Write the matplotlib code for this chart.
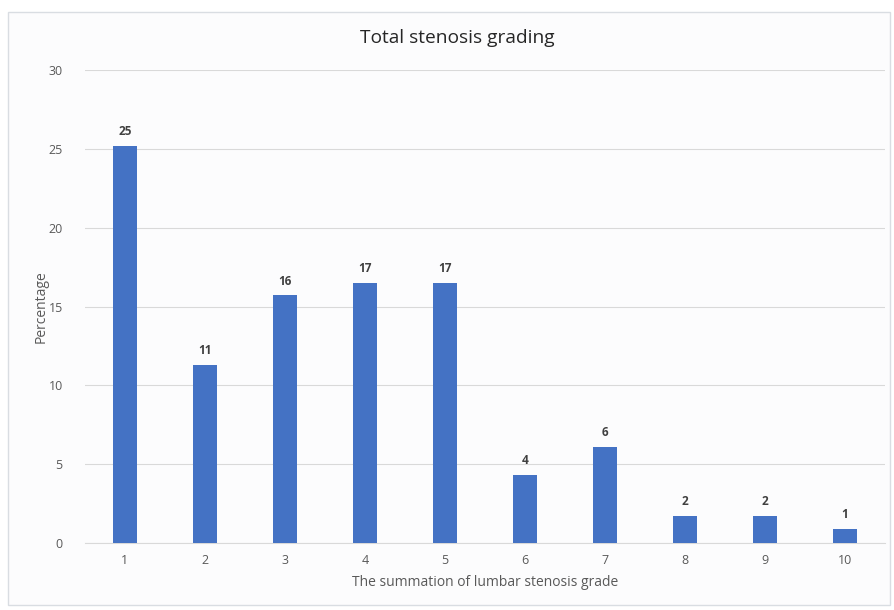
import matplotlib
matplotlib.use("Agg")
import matplotlib.pyplot as plt
from matplotlib.patches import Rectangle

grades = ["1", "2", "3", "4", "5", "6", "7", "8", "9", "10"]
percentages = [25.2, 11.3, 15.7, 16.5, 16.5, 4.3, 6.1, 1.7, 1.7, 0.9]
bar_labels = ["25", "11", "16", "17", "17", "4", "6", "2", "2", "1"]

plt.rcParams['font.family'] = ['Open Sans', 'DejaVu Sans']
text_col = "#595959"
bar_col = "#4472C4"

fig = plt.figure(figsize=(8.94, 6.10), dpi=100)
fig.patch.set_facecolor("white")
# light frame round the chart area, kept behind the axes
fig.add_artist(Rectangle((0.009, 0.008), 0.987, 0.972, transform=fig.transFigure,
                         facecolor="#fcfcfd", edgecolor="#d9dde2", lw=1.0,
                         zorder=-10))

ax = fig.add_axes([0.095, 0.110, 0.895, 0.775])
ax.set_facecolor("none")
x = list(range(1, len(grades) + 1))
ax.bar(x, percentages, width=0.3, color=bar_col, zorder=3)
for xi, v, lab in zip(x, percentages, bar_labels):
    ax.text(xi, v + 0.5, lab, ha="center", va="bottom", fontsize=8.5,
            fontweight="bold", color="#404040")

ax.set_xlim(0.5, 10.5)
ax.set_ylim(0, 30)
ax.set_yticks(range(0, 31, 5))
ax.set_xticks(x)
ax.set_xticklabels(grades)
ax.grid(axis="y", color="#d9d9d9", lw=0.8, zorder=0)
for s in ["top", "right", "left"]:
    ax.spines[s].set_visible(False)
ax.spines["bottom"].set_color("#d9d9d9")
ax.tick_params(length=0, colors=text_col, labelsize=9)
ax.tick_params(axis="y", pad=16)
ax.tick_params(axis="x", pad=8)

fig.text(0.512, 0.938, "Total stenosis grading", fontsize=13.8, color="#262626",
         ha="center", va="center")
ax.set_xlabel("The summation of lumbar stenosis grade", fontsize=10, color=text_col, labelpad=6)
ax.set_ylabel("Percentage", fontsize=10, color=text_col, labelpad=0)

fig.savefig("out.png", dpi=100)
